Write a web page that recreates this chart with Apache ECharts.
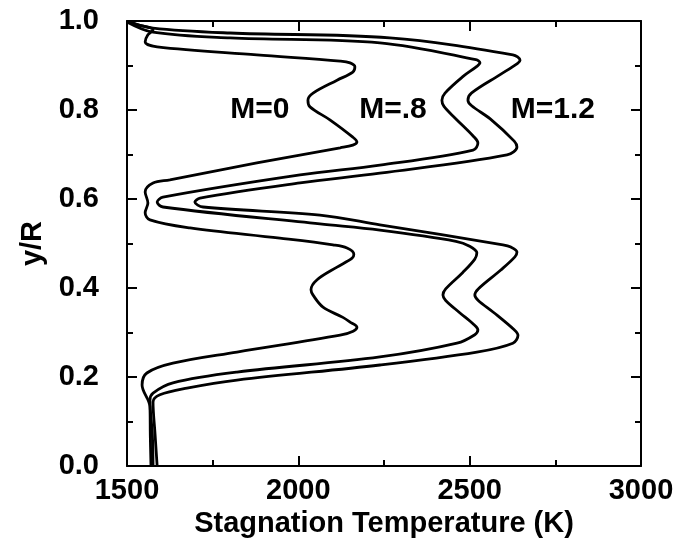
<!DOCTYPE html>
<html>
<head>
<meta charset="utf-8">
<script src="https://cdn.jsdelivr.net/npm/echarts@6/dist/echarts.min.js"></script>
<style>
html,body{margin:0;padding:0;background:#fff;}
#chart{width:680px;height:559px;}
</style>
</head>
<body>
<div id="chart"></div>
<script>
// Stagnation temperature (K) vs y/R
var curveM0 = [
  [1570,0],[1568,0.07],[1567,0.133],[1544,0.182],[1558,0.209],[1634,0.231],[1821,0.256],
  [2122,0.294],[2160,0.303],[2171,0.312],[2150,0.324],[2130,0.334],[2072,0.357],[2043,0.384],
  [2037,0.396],[2054,0.418],[2113,0.447],[2157,0.467],[2162,0.476],[2142,0.490],[2101,0.497],
  [1946,0.512],[1684,0.535],[1567,0.553],[1553,0.569],[1561,0.591],[1553,0.616],[1576,0.636],
  [1625,0.643],[1879,0.681],[2122,0.715],[2159,0.721],[2171,0.728],[2159,0.739],[2092,0.778],
  [2034,0.807],[2028,0.822],[2043,0.838],[2113,0.867],[2159,0.885],[2165,0.897],[2151,0.906],
  [2122,0.910],[1879,0.924],[1588,0.942],[1553,0.953],[1561,0.969],[1576,0.980],[1530,0.992],[1500,0.999]
];
var curveM08 = [
  [1576,0],[1574,0.07],[1567,0.148],[1576,0.164],[1634,0.187],[1821,0.211],[2238,0.245],
  [2463,0.276],[2515,0.295],[2524,0.306],[2512,0.318],[2470,0.345],[2430,0.372],[2422,0.384],
  [2430,0.398],[2480,0.435],[2515,0.465],[2521,0.479],[2500,0.494],[2460,0.505],[2238,0.530],
  [2063,0.544],[1605,0.582],[1588,0.593],[1605,0.604],[2005,0.654],[2238,0.676],[2510,0.710],
  [2524,0.726],[2512,0.740],[2460,0.780],[2425,0.808],[2419,0.822],[2428,0.838],[2480,0.875],
  [2521,0.898],[2530,0.906],[2518,0.913],[2238,0.951],[1801,0.962],[1576,0.975],[1500,0.998]
];
var curveM12 = [
  [1588,0],[1582,0.07],[1576,0.144],[1596,0.160],[1675,0.175],[1821,0.193],[2238,0.227],
  [2521,0.256],[2626,0.276],[2641,0.294],[2630,0.306],[2570,0.345],[2525,0.372],[2515,0.384],
  [2525,0.398],[2590,0.440],[2632,0.470],[2638,0.481],[2620,0.492],[2597,0.497],[2238,0.542],
  [2063,0.564],[1722,0.582],[1698,0.593],[1713,0.602],[2005,0.636],[2238,0.658],[2609,0.699],
  [2638,0.717],[2630,0.730],[2560,0.780],[2505,0.810],[2495,0.822],[2505,0.838],[2590,0.880],
  [2640,0.905],[2647,0.912],[2626,0.924],[2267,0.962],[1801,0.973],[1576,0.984],[1500,0.999]
];
var curveLabels = [[1888,0.80,'M=0'],[2276,0.80,'M=.8'],[2743,0.80,'M=1.2']];
var xTicks = [1500,2000,2500,3000];
var yTicks = [0.0,0.2,0.4,0.6,0.8,1.0];

var FONT = '"Liberation Sans", Arial, sans-serif';
var chart = echarts.init(document.getElementById('chart'), null, {renderer:'canvas'});

function lineSeries(name, data){
  return {
    name: name, type: 'line', data: data, smooth: 0.35, showSymbol: false,
    lineStyle: {color:'#000', width: 2.8}, z: 3, animation: false
  };
}
var axisCommon = {
  axisLine: {show: true, onZero: false, lineStyle: {color:'#000', width: 2}},
  axisTick: {show: true, inside: true, length: 10, lineStyle: {color:'#000', width: 2}},
  minorTick: {show: true, splitNumber: 2, length: 6, lineStyle: {color:'#000', width: 2}},
  splitLine: {show: false}
};
var option = {
  backgroundColor: '#fff',
  animation: false,
  grid: {left: 127, right: 39, top: 21, bottom: 93},
  xAxis: [
    Object.assign({}, axisCommon, {
      type: 'value', min: xTicks[0], max: xTicks[xTicks.length-1], interval: 500, position: 'bottom',
      axisLabel: {show: true, margin: 10, color:'#000', fontFamily: FONT, fontWeight: 'bold', fontSize: 29,
        formatter: function(v){ return String(v); }},
      name: 'Stagnation Temperature (K)', nameLocation: 'middle', nameGap: 42,
      nameTextStyle: {color:'#000', fontFamily: FONT, fontWeight: 'bold', fontSize: 29}
    }),
    Object.assign({}, axisCommon, {
      type: 'value', min: xTicks[0], max: xTicks[xTicks.length-1], interval: 500, position: 'top',
      axisLabel: {show: false}
    })
  ],
  yAxis: [
    Object.assign({}, axisCommon, {
      type: 'value', min: yTicks[0], max: yTicks[yTicks.length-1], interval: 0.2, position: 'left',
      axisLabel: {show: true, margin: 28, color:'#000', fontFamily: FONT, fontWeight: 'bold', fontSize: 29,
        formatter: function(v){ return v.toFixed(1); }},
      name: 'y/R', nameLocation: 'middle', nameGap: 68, nameRotate: 90,
      nameTextStyle: {color:'#000', fontFamily: FONT, fontWeight: 'bold', fontSize: 29}
    }),
    Object.assign({}, axisCommon, {
      type: 'value', min: yTicks[0], max: yTicks[yTicks.length-1], interval: 0.2, position: 'right',
      axisLabel: {show: false}
    })
  ],
  series: [
    lineSeries('M=0', curveM0),
    lineSeries('M=.8', curveM08),
    lineSeries('M=1.2', curveM12),
    {
      type: 'scatter', data: curveLabels, symbolSize: 0, z: 4, silent: true,
      itemStyle: {opacity: 1, color: '#000'},
      label: {show: true, position: 'inside', formatter: function(p){ return p.data[2]; },
        color:'#000', opacity: 1, fontFamily: FONT, fontWeight: 'bold', fontSize: 30}
    }
  ]
};
chart.setOption(option);
</script>
</body>
</html>
